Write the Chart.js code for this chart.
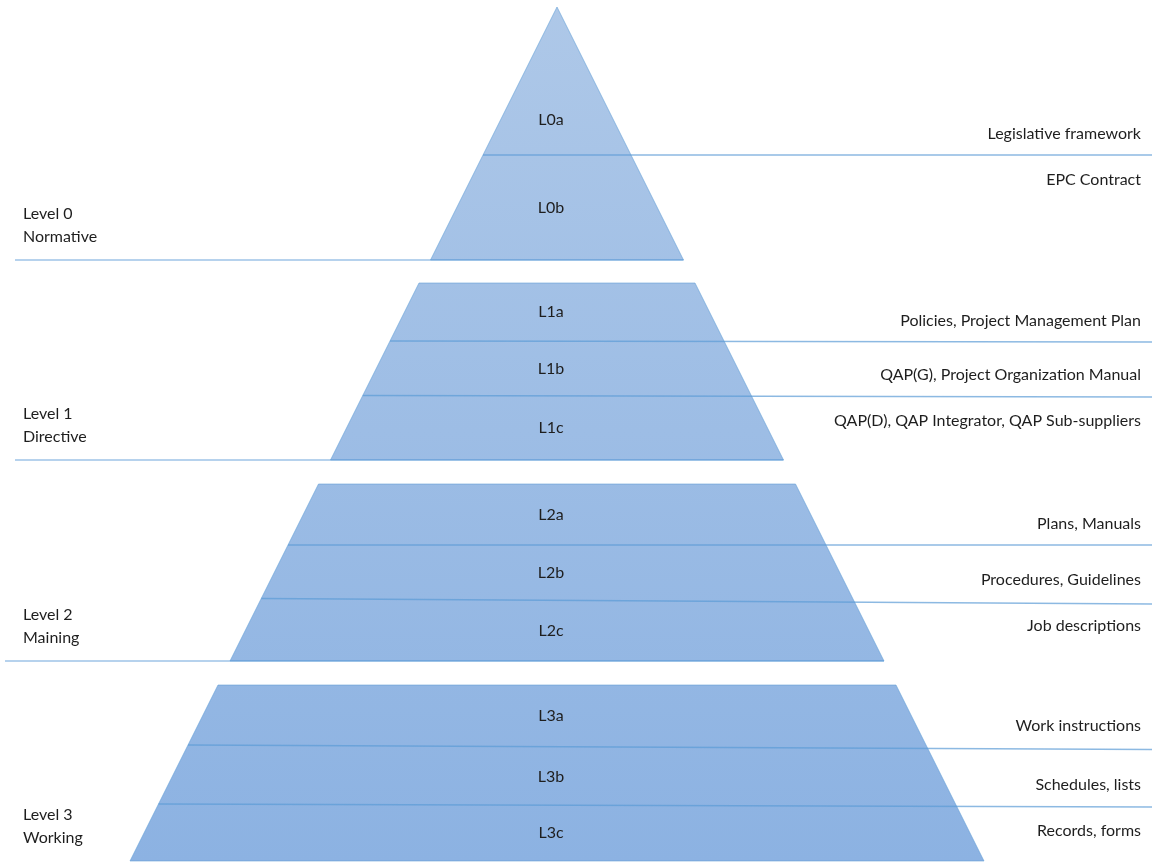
<!DOCTYPE html>
<html>
<head>
<meta charset="utf-8">
<title>Document pyramid</title>
<script src="https://cdn.jsdelivr.net/npm/chart.js@4.4.1/dist/chart.umd.min.js"></script>
<style>
  html, body { margin: 0; padding: 0; background: #fff; }
  #wrap { width: 1152px; height: 862px; position: relative; }
</style>
</head>
<body>
<div id="wrap"><canvas id="chart"></canvas></div>
<script>
/* pyramid data, depth measured down the y axis */

const levelNames  = ['Level 0', 'Level 1', 'Level 2', 'Level 3'];
const levelTitles = ['Normative', 'Directive', 'Maining', 'Working'];
const levelTop    = [7, 283, 484, 685];
const levelBottom = [260, 460, 661, 861];

const segmentLabels = [
    ['L0a', 'L0b'],
    ['L1a', 'L1b', 'L1c'],
    ['L2a', 'L2b', 'L2c'],
    ['L3a', 'L3b', 'L3c']
];

// depth of each divider, at the pyramid edge and at the right end
const segmentBreaks = [
    [[155, 155]],
    [[341, 342], [395.5, 397]],
    [[545, 545], [598.5, 604]],
    [[745, 749.5], [804, 807]]
];

const documents = [
    ['Legislative framework', 'EPC Contract'],
    ['Policies, Project Management Plan', 'QAP(G), Project Organization Manual', 'QAP(D), QAP Integrator, QAP Sub-suppliers'],
    ['Plans, Manuals', 'Procedures, Guidelines', 'Job descriptions'],
    ['Work instructions', 'Schedules, lists', 'Records, forms']
];

const APEX = 7;
const SLOPE = 0.5;
const X_MIN = -557, X_MAX = 595;

function halfWidth( d ) {
    return Math.max( 0, ( d - APEX ) * SLOPE );
}

function bandFill( context ) {
    const chart = context.chart;
    const area = chart.chartArea;
    if ( !area ) return '#a3c0e6';
    const g = chart.ctx.createLinearGradient( 0, area.top, 0, area.bottom );
    g.addColorStop( 0, '#aec8e8' );
    g.addColorStop( 1, '#8cb2e2' );
    return g;
}

const datasets = [];

// the four bands (drawn underneath everything)
levelTop.forEach( ( top, i ) => {
    const bot = levelBottom[i];
    datasets.push({
        data: [
            { x: -halfWidth( top ), y: top },
            { x:  halfWidth( top ), y: top },
            { x:  halfWidth( bot ), y: bot },
            { x: -halfWidth( bot ), y: bot },
            { x: -halfWidth( top ), y: top }
        ],
        order: 10,
        showLine: true,
        fill: 'shape',
        backgroundColor: bandFill,
        borderColor: 'rgba(91,155,213,0.55)',
        borderWidth: 1,
        pointRadius: 0,
        tension: 0
    });
});

// dividers, running across the band and out to the right edge
segmentBreaks.forEach( ( breaks ) => {
    breaks.forEach( ( b ) => {
        datasets.push({
            data: [
                { x: -halfWidth( b[0] ), y: b[0] },
                { x: X_MAX, y: b[1] }
            ],
            order: 1,
            showLine: true,
            fill: false,
            borderColor: 'rgba(91,155,213,0.7)',
            borderWidth: 1.5,
            pointRadius: 0
        });
    });
});

// level baselines under the left labels
const baseStart = [-542, -542, -552];
baseStart.forEach( ( x0, i ) => {
    const bot = levelBottom[i];
    datasets.push({
        data: [ { x: x0, y: bot }, { x: halfWidth( bot ), y: bot } ],
        order: 1,
        showLine: true,
        fill: false,
        borderColor: 'rgba(91,155,213,0.6)',
        borderWidth: 1.5,
        pointRadius: 0
    });
});

const textPlugin = {
    id: 'pyramidText',
    afterDatasetsDraw( chart ) {
        const ctx = chart.ctx;
        const xs = chart.scales.x, ys = chart.scales.y;
        ctx.save();
        ctx.fillStyle = '#1e1e1e';
        ctx.font = '16px Lato, "Open Sans", sans-serif';
        ctx.textBaseline = 'middle';

        levelTop.forEach( ( top, i ) => {
            const bot = levelBottom[i];
            const edges = [ top ].concat(
                segmentBreaks[i].map( b => ( b[0] + b[1] ) / 2 ), [ bot ] );

            // segment names in the middle of the pyramid
            ctx.textAlign = 'center';
            segmentLabels[i].forEach( ( lab, j ) => {
                let d = ( edges[j] + edges[j + 1] ) / 2;
                if ( i == 0 && j == 0 )
                    d = edges[0] + 0.76 * ( edges[1] - edges[0] );
                ctx.fillText( lab, xs.getPixelForValue( -6 ), ys.getPixelForValue( d ) );
            });

            // documents on the right
            ctx.textAlign = 'right';
            documents[i].forEach( ( doc, j ) => {
                const n = documents[i].length;
                const d = ( j < n - 1 ) ? edges[j + 1] - 21 : edges[j] + 25;
                ctx.fillText( doc, xs.getPixelForValue( 584 ), ys.getPixelForValue( d ) );
            });

            // level names on the left
            ctx.textAlign = 'left';
            ctx.fillText( levelNames[i], xs.getPixelForValue( -534 ), ys.getPixelForValue( bot - 46 ) );
            ctx.fillText( levelTitles[i], xs.getPixelForValue( -534 ), ys.getPixelForValue( bot - 23 ) );
        });
        ctx.restore();
    }
};

const ctx = document.getElementById( 'chart' ).getContext( '2d' );
const chart = new Chart( ctx, {
    type: 'scatter',
    data: { datasets: datasets },
    options: {
        responsive: true,
        maintainAspectRatio: false,
        animation: false,
        layout: { padding: 0 },
        plugins: {
            legend: { display: false },
            tooltip: { enabled: false }
        },
        scales: {
            x: { type: 'linear', min: X_MIN, max: X_MAX, display: false },
            y: { type: 'linear', min: 0, max: 862, reverse: true, display: false }
        },
        elements: {
            line: { tension: 0 }
        }
    },
    plugins: [ textPlugin ]
});
</script>
</body>
</html>
